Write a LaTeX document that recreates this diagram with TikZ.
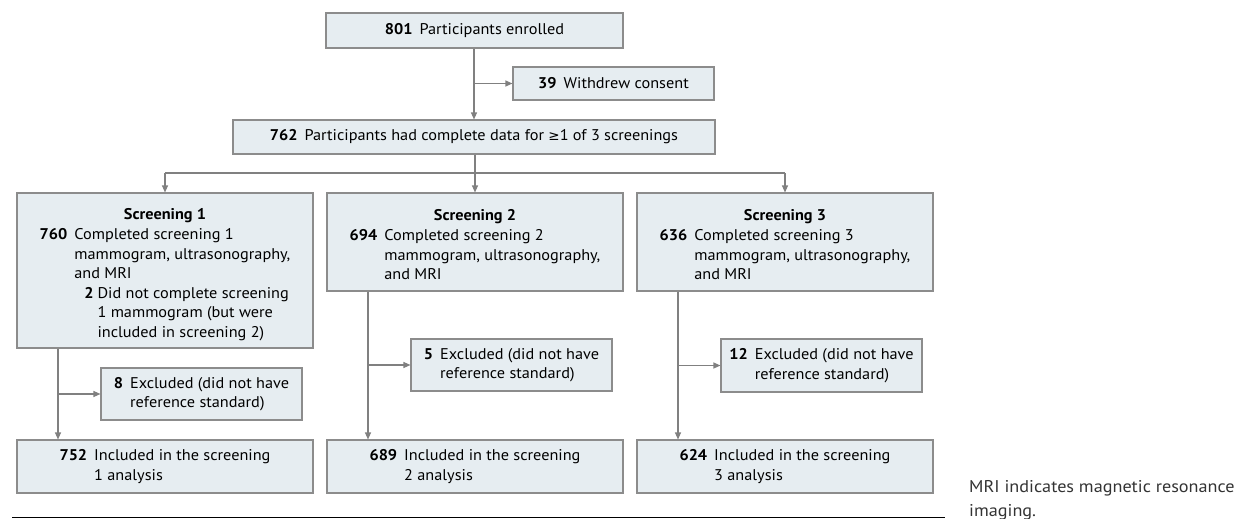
\documentclass[tikz,border=0pt]{standalone}
\usepackage{fontspec}
\setmainfont{PT Sans}[FakeStretch=1.05]
\newfontfamily\notefont{PT Sans}[FakeStretch=1.07]
\newfontfamily\symfont{DejaVu Sans}
\usetikzlibrary{arrows.meta}
\definecolor{boxfill}{HTML}{E6EDF1}
\definecolor{boxline}{HTML}{8C8C8C}
\definecolor{arrowc}{HTML}{808080}
\definecolor{notec}{HTML}{333333}
\newcommand{\nm}[1]{\textbf{#1}\hspace{7pt}}
\newcommand{\topstrut}{\rule{0pt}{22pt}}
\newcommand{\geqsym}{{\symfont\fontsize{13.5}{19.5}\selectfont ≥}}
\begin{document}
\begin{tikzpicture}[x=1pt,y=-1pt,
  box/.style={draw=boxline, fill=boxfill, line width=1.1pt, inner sep=0pt,
    font=\fontsize{15.5}{19.5}\selectfont, align=center, text=black},
  conn/.style={draw=arrowc, line width=1.1pt},
  arr/.style={conn, -{Triangle[length=7pt,width=6pt]}},
  note/.style={font=\notefont\fontsize{17}{24}\selectfont, text=notec, align=left, inner sep=0pt, anchor=base west}]
\useasboundingbox (0,0) rectangle (1234,519);

\node[box, minimum width=297pt, minimum height=35pt] (top) at (474.5,30.5) {\nm{801}Participants enrolled};
\node[box, minimum width=201pt, minimum height=33pt] (wd) at (613.5,83.5) {\nm{39}Withdrew consent};
\node[box, minimum width=482pt, minimum height=34pt] (all) at (474,137) {\nm{762}Participants had complete data for \geqsym1 of 3 screenings};

\node[box, minimum width=296pt, minimum height=155pt] (s1) at (165,270.5) {\topstrut\textbf{Screening 1}\\[2pt]
  \begin{tabular}{@{}r@{\hspace{7pt}}l@{}}
  \textbf{760} & Completed screening 1\\
   & mammogram, ultrasonography,\\
   & and MRI\\
   & \hspace{10pt}\begin{tabular}[t]{@{}r@{\hspace{4pt}}l@{}}
     \textbf{2} & Did not complete screening\\
      & 1 mammogram (but were\\
      & included in screening 2)
     \end{tabular}
  \end{tabular}};
\node[box, minimum width=296pt, minimum height=98pt] (s2) at (475,242) {\topstrut\textbf{Screening 2}\\[2pt]
  \begin{tabular}{@{}r@{\hspace{7pt}}l@{}}
  \textbf{694} & Completed screening 2\\
   & mammogram, ultrasonography,\\
   & and MRI
  \end{tabular}};
\node[box, minimum width=296pt, minimum height=98pt] (s3) at (785,242) {\topstrut\textbf{Screening 3}\\[2pt]
  \begin{tabular}{@{}r@{\hspace{7pt}}l@{}}
  \textbf{636} & Completed screening 3\\
   & mammogram, ultrasonography,\\
   & and MRI
  \end{tabular}};

\node[box, minimum width=201pt, minimum height=52pt] (e1) at (201.5,394) {\begin{tabular}{@{}r@{\hspace{7pt}}l@{}}
  \textbf{8} & Excluded (did not have\\ & reference standard)\end{tabular}};
\node[box, minimum width=201pt, minimum height=52pt] (e2) at (511.5,365) {\begin{tabular}{@{}r@{\hspace{7pt}}l@{}}
  \textbf{5} & Excluded (did not have\\ & reference standard)\end{tabular}};
\node[box, minimum width=201pt, minimum height=53pt] (e3) at (821.5,365.5) {\begin{tabular}{@{}r@{\hspace{7pt}}l@{}}
  \textbf{12} & Excluded (did not have\\ & reference standard)\end{tabular}};

\node[box, minimum width=296pt, minimum height=53pt] (i1) at (165,466.5) {\begin{tabular}{@{}r@{\hspace{7pt}}l@{}}
  \textbf{752} & Included in the screening\\ & 1 analysis\end{tabular}};
\node[box, minimum width=296pt, minimum height=53pt] (i2) at (475,466.5) {\begin{tabular}{@{}r@{\hspace{7pt}}l@{}}
  \textbf{689} & Included in the screening\\ & 2 analysis\end{tabular}};
\node[box, minimum width=296pt, minimum height=53pt] (i3) at (785,466.5) {\begin{tabular}{@{}r@{\hspace{7pt}}l@{}}
  \textbf{624} & Included in the screening\\ & 3 analysis\end{tabular}};

% connectors
\coordinate (b0) at ([xshift=-0.5pt]top.south);
\draw[arr] (b0) -- (b0 |- all.north);
\draw[arr] (b0 |- wd.west) -- (wd.west);
\coordinate (hb) at (474,173);
\draw[arr] (all.south -| s2.north) -- (s2.north);
\draw[conn] (s1.north |- hb) -- (s3.north |- hb);
\draw[arr] (s1.north |- hb) -- (s1.north);
\draw[arr] (s3.north |- hb) -- (s3.north);

\coordinate (v1) at ([xshift=-107pt]s1.south);
\coordinate (v2) at ([xshift=-107pt]s2.south);
\coordinate (v3) at ([xshift=-107pt]s3.south);
\draw[arr] (v1) -- (v1 |- i1.north);
\draw[arr] (v1 |- e1.west) -- (e1.west);
\draw[arr] (v2) -- (v2 |- i2.north);
\draw[arr] (v2 |- e2.west) -- (e2.west);
\draw[arr] (v3) -- (v3 |- i3.north);
\draw[arr] (v3 |- e3.west) -- (e3.west);

% rule and note
\draw[black, line width=1pt] (12,517) -- (945,517);
\node[note] (mri) at (969,516) {MRI indicates magnetic resonance\\imaging.};
\end{tikzpicture}
\end{document}
